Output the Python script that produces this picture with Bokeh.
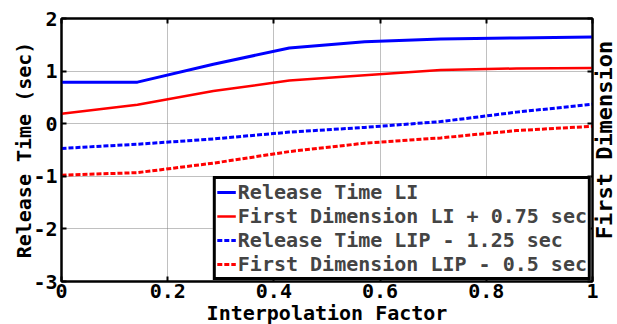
import math
from bokeh.plotting import figure
from bokeh.models import LinearAxis, FixedTicker, Range1d, Legend, LegendItem, Label
from bokeh.embed import file_html
from bokeh.resources import INLINE

# Data
interp_factor = [0.0, 0.143, 0.286, 0.429, 0.571, 0.714, 0.857, 1.0]
release_time_li = [0.79, 0.79, 1.13, 1.44, 1.56, 1.61, 1.63, 1.65]
first_dim_li = [0.19, 0.36, 0.62, 0.82, 0.92, 1.02, 1.05, 1.06]
release_time_lip = [-0.47, -0.39, -0.29, -0.16, -0.07, 0.04, 0.22, 0.37]
first_dim_lip = [-0.98, -0.93, -0.75, -0.53, -0.37, -0.27, -0.13, -0.05]

series_labels = ["Release Time LI", "First Dimension LI + 0.75 sec",
                 "Release Time LIP - 1.25 sec", "First Dimension LIP - 0.5 sec"]
x_ticks = [0, 0.2, 0.4, 0.6, 0.8, 1.0]
x_tick_labels = {0: "0", 0.2: "0.2", 0.4: "0.4", 0.6: "0.6", 0.8: "0.8", 1.0: "1"}
y_ticks = [-3, -2, -1, 0, 1, 2]
y_tick_labels = {-3: "-3", -2: "-2", -1: "-1", 0: "0", 1: "1", 2: "2"}
x_title = "Interpolation Factor"
y_title = "Release Time (sec)"
y2_title = "First Dimension"

FONT = "DejaVu Sans Mono"
X0, X1, Y0, Y1 = 0, 1, -3, 2

p = figure(width=617, height=324, output_backend="svg", toolbar_location=None,
           x_range=Range1d(X0, X1), y_range=Range1d(Y0, Y1),
           min_border_left=61, min_border_right=25, min_border_top=18, min_border_bottom=39)
p.background_fill_color = "white"
p.border_fill_color = "white"
p.outline_line_color = "black"
p.outline_line_width = 2

def style_axis(ax):
    ax.axis_line_width = 2
    ax.axis_line_color = "black"
    ax.major_tick_in = 5
    ax.major_tick_out = 0
    ax.major_tick_line_width = 2
    ax.minor_tick_line_color = None
    ax.major_label_text_font = FONT
    ax.major_label_text_font_style = "bold"
    ax.major_label_text_font_size = "20px"
    ax.major_label_text_color = "black"
    ax.axis_label_text_font = FONT
    ax.axis_label_text_font_style = "bold"
    ax.axis_label_text_font_size = "20px"
    ax.axis_label_text_color = "black"

xa = p.xaxis[0]
xa.ticker = FixedTicker(ticks=x_ticks)
xa.major_label_overrides = x_tick_labels
style_axis(xa)
xa.major_label_standoff = 2

ya = p.yaxis[0]
ya.ticker = FixedTicker(ticks=y_ticks)
ya.major_label_overrides = y_tick_labels
ya.axis_label = y_title
style_axis(ya)
ya.major_label_standoff = 4
ya.axis_label_standoff = -6

top = LinearAxis(ticker=FixedTicker(ticks=x_ticks))
style_axis(top)
top.major_label_overrides = {t: "" for t in x_ticks}
p.add_layout(top, "above")

right = LinearAxis(ticker=FixedTicker(ticks=y_ticks))
style_axis(right)
right.major_label_overrides = {t: "" for t in y_ticks}
right.major_label_standoff = 0
p.add_layout(right, "right")

# bottom title, placed below the x range
p.add_layout(Label(x=(X0 + X1) / 2, y=Y0, y_offset=-31, text=x_title,
                   text_font=FONT, text_font_style="bold", text_font_size="20px",
                   text_align="center", text_baseline="middle", text_color="black"), "below")

# right-hand title, reading bottom-to-top like the left one
p.add_layout(Label(x=X1, y=(Y0 + Y1) / 2, x_offset=12, y_offset=10, text=y2_title,
                   angle=math.pi / 2, text_font=FONT, text_font_style="bold",
                   text_font_size="22px", text_align="center", text_baseline="middle",
                   text_color="black"), "right")

p.xgrid.ticker = FixedTicker(ticks=x_ticks)
p.ygrid.ticker = FixedTicker(ticks=y_ticks)
for g in (p.xgrid[0], p.ygrid[0]):
    g.grid_line_color = "#808080"
    g.grid_line_dash = "1 1"
    g.grid_line_width = 1

r1 = p.line(interp_factor, release_time_li, line_color="#0000FF", line_width=3)
r2 = p.line(interp_factor, first_dim_li, line_color="#FF0000", line_width=2.5)
r3 = p.line(interp_factor, release_time_lip, line_color="#0000FF", line_width=3, line_dash="5 2")
r4 = p.line(interp_factor, first_dim_lip, line_color="#FF0000", line_width=3, line_dash="5 2")

legend = Legend(items=[LegendItem(label=series_labels[i], renderers=[r])
                       for i, r in enumerate([r1, r2, r3, r4])],
                location="bottom_right")
legend.margin = 1
legend.padding = 1
legend.spacing = 0
legend.glyph_width = 19
legend.label_standoff = 2
legend.label_height = 20
legend.label_text_font = FONT
legend.label_text_font_style = "bold"
legend.label_text_font_size = "20px"
legend.border_line_color = "black"
legend.border_line_alpha = 1
legend.border_line_width = 3
legend.background_fill_alpha = 1
p.add_layout(legend, "center")

open("out.html", "w").write(file_html(p, INLINE))
